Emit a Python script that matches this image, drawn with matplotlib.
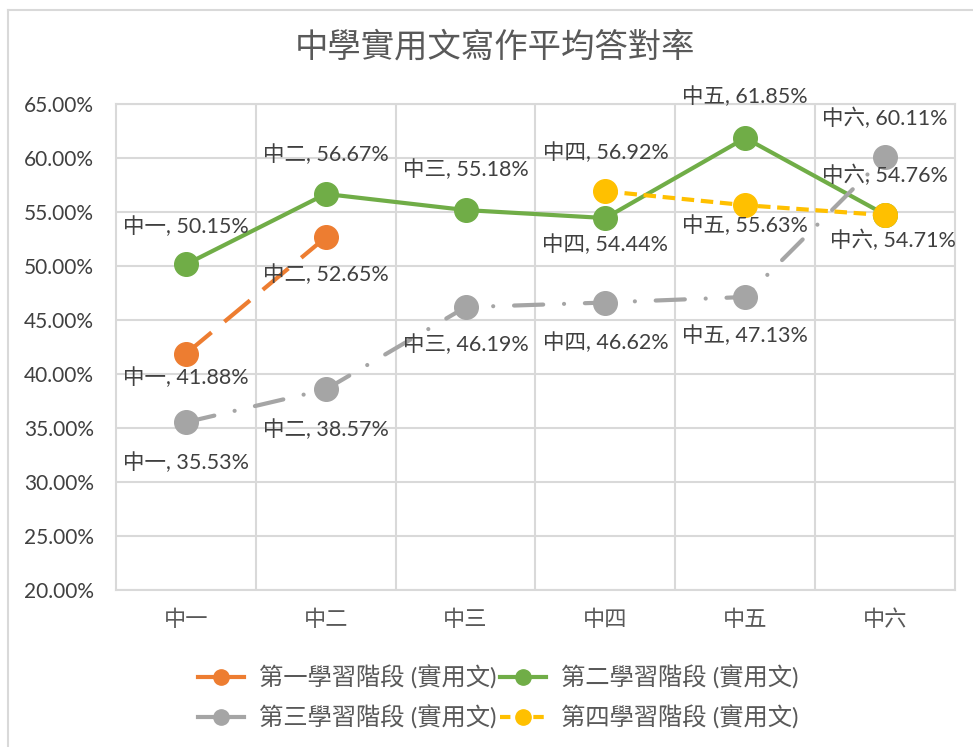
import matplotlib.pyplot as plt
from matplotlib.lines import Line2D
from matplotlib.ticker import FuncFormatter, MultipleLocator

plt.rcParams['font.family'] = ['Lato', 'Noto Sans CJK TC', 'DejaVu Sans']

# data (percent)
grades = ['中一', '中二', '中三', '中四', '中五', '中六']

stage1_x = [0, 1]
stage1 = [41.88, 52.65]
stage2_x = [0, 1, 2, 3, 4, 5]
stage2 = [50.15, 56.67, 55.18, 54.44, 61.85, 54.76]
stage3_x = [0, 1, 2, 3, 4, 5]
stage3 = [35.53, 38.57, 46.19, 46.62, 47.13, 60.11]
stage4_x = [3, 4, 5]
stage4 = [56.92, 55.63, 54.71]

names = ['第一學習階段 (實用文)', '第二學習階段 (實用文)',
         '第三學習階段 (實用文)', '第四學習階段 (實用文)']

# label offsets (points) for each data label
off1 = [(0, -17), (0, -27)]
off2 = [(0, 27), (0, 28), (0, 29), (0, -19), (0, 30), (0, 28)]
off3 = [(0, -29), (0, -29), (0, -27), (0, -29), (0, -28), (0, 28)]
off4 = [(0, 28), (0, -15), (6, -18)]

W, H = 973, 747
fig = plt.figure(figsize=(W / 100, H / 100), dpi=100)
ax = fig.add_axes([116 / W, 1 - 590 / H, (955 - 116) / W, (590 - 104) / H])

grid_c = '#D9D9D9'
lab_c = '#404040'

series = [
    (stage1_x, stage1, '#ED7D31', dict(dashes=(8, 4)), off1),
    (stage2_x, stage2, '#70AD47', dict(linestyle='-'), off2),
    (stage3_x, stage3, '#A5A5A5', dict(dashes=(7, 5, 0.01, 5), dash_capstyle='round'), off3),
    (stage4_x, stage4, '#FFC000', dict(dashes=(3, 1.6)), off4),
]

handles = []
for i, (xs, ys, col, style, offs) in enumerate(series):
    ax.plot(xs, ys, color=col, lw=3, marker='o', ms=17,
            solid_joinstyle='round', zorder=3 + i, **style)
    # legend proxy: short handle, solid unless the series uses short dashes
    hstyle = dict(dashes=(2.5, 1.5)) if i == 3 else dict(linestyle='-')
    handles.append(Line2D([], [], color=col, lw=3, marker='o', ms=11,
                          label=names[i], **hstyle))
    for x, y, (dx, dy) in zip(xs, ys, offs):
        ax.annotate(f'{grades[x]}, {y:.2f}%', (x, y), xytext=(dx, dy),
                    textcoords='offset points', ha='center', va='center',
                    fontsize=15.5, color=lab_c, zorder=10)

ax.set_xlim(-0.5, 5.5)
ax.set_ylim(20, 65)
ax.yaxis.set_major_locator(MultipleLocator(5))
ax.yaxis.set_major_formatter(FuncFormatter(lambda v, p: f'{v:.2f}%'))
ax.set_xticks(range(6))
ax.set_xticklabels(grades)
ax.set_xticks([0.5, 1.5, 2.5, 3.5, 4.5], minor=True)

ax.grid(axis='y', which='major', color=grid_c, lw=1.5)
ax.grid(axis='x', which='minor', color=grid_c, lw=1.5)
ax.set_axisbelow(True)
for s in ax.spines.values():
    s.set_color(grid_c)
    s.set_linewidth(1.5)

ax.tick_params(axis='both', which='both', length=0)
ax.tick_params(axis='y', pad=16, labelsize=15, labelcolor=lab_c)
ax.tick_params(axis='x', pad=14, labelsize=16, labelcolor='#595959')

fig.text(495 / W, 1 - 47 / H, '中學實用文寫作平均答對率', ha='center', va='center',
         fontsize=24, color='#595959')

# row-major legend order for ncol=2
leg_order = [handles[0], handles[2], handles[1], handles[3]]
leg = fig.legend(handles=leg_order, loc='center', bbox_to_anchor=(498 / W, 1 - 697 / H),
                 ncol=2, frameon=False, fontsize=17.5,
                 handlelength=1.9, handletextpad=0.6, columnspacing=0.15,
                 labelspacing=0.65)
for t in leg.get_texts():
    t.set_color('#595959')

# chart border (only top and left visible in the crop)
fig.add_artist(Line2D([8 / W, 8 / W], [0, 1 - 10 / H], transform=fig.transFigure,
                      color=grid_c, lw=1.5))
fig.add_artist(Line2D([8 / W, 1], [1 - 10 / H, 1 - 10 / H], transform=fig.transFigure,
                      color=grid_c, lw=1.5))

fig.savefig('out.png', dpi=100)
